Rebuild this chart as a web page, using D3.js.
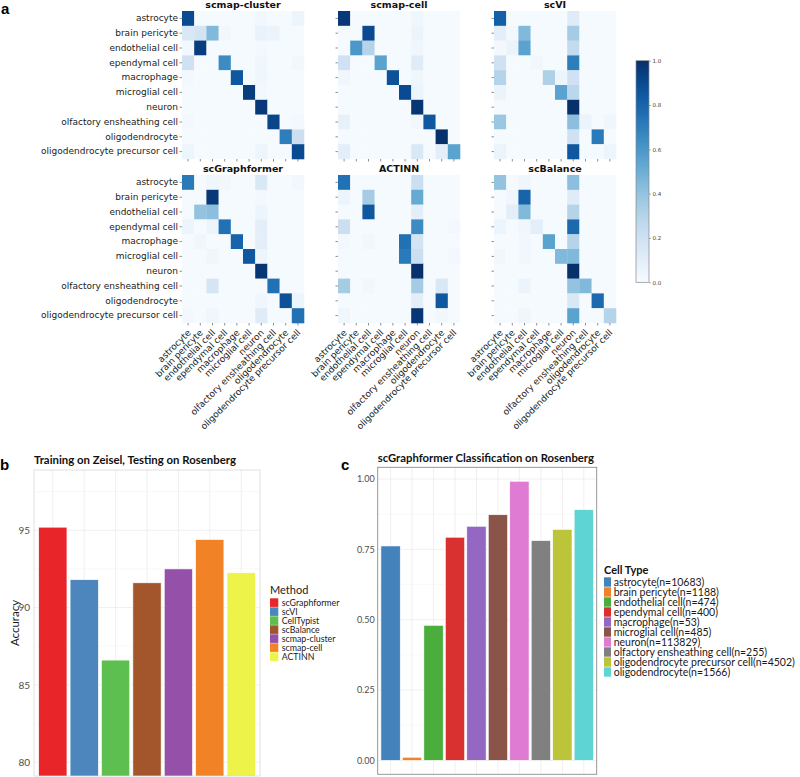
<!DOCTYPE html>
<html>
<head>
<meta charset="utf-8">
<script src="https://cdn.jsdelivr.net/npm/d3@7"></script>
<style>
  body { margin: 0; background: #fff; }
  svg { display: block; }
</style>
</head>
<body>
<script>
// ---- data ----
var cellTypes = ["astrocyte", "brain pericyte", "endothelial cell", "ependymal cell", "macrophage",
  "microglial cell", "neuron", "olfactory ensheathing cell", "oligodendrocyte", "oligodendrocyte precursor cell"];

// confusion matrices (rows = true type, cols = predicted type)
var scmapClusterMatrix = [
  [0.90,0.01,0.01,0.01,0.01,0.01,0.03,0.01,0.01,0.05],
  [0.15,0.18,0.45,0.03,0.01,0.01,0.07,0.06,0.01,0.01],
  [0.02,0.95,0.01,0.01,0.01,0.01,0.02,0.01,0.01,0.01],
  [0.20,0.01,0.01,0.65,0.01,0.01,0.04,0.01,0.01,0.03],
  [0.02,0.01,0.01,0.01,0.85,0.01,0.04,0.01,0.01,0.01],
  [0.01,0.01,0.01,0.01,0.01,0.95,0.02,0.01,0.01,0.01],
  [0.01,0.01,0.01,0.01,0.01,0.01,0.97,0.01,0.01,0.01],
  [0.02,0.01,0.01,0.01,0.01,0.01,0.01,0.92,0.01,0.02],
  [0.01,0.01,0.01,0.01,0.01,0.01,0.01,0.01,0.70,0.22],
  [0.05,0.01,0.01,0.01,0.01,0.01,0.05,0.01,0.01,0.90]
];
var scmapCellMatrix = [
  [0.97,0.01,0.01,0.01,0.01,0.01,0.04,0.01,0.01,0.01],
  [0.01,0.01,0.90,0.01,0.01,0.01,0.06,0.01,0.01,0.01],
  [0.01,0.60,0.30,0.01,0.01,0.01,0.04,0.01,0.01,0.01],
  [0.20,0.01,0.01,0.55,0.01,0.01,0.12,0.01,0.01,0.01],
  [0.04,0.01,0.01,0.01,0.87,0.01,0.04,0.01,0.01,0.01],
  [0.01,0.01,0.01,0.01,0.01,0.90,0.05,0.01,0.01,0.01],
  [0.01,0.01,0.01,0.01,0.01,0.01,0.98,0.01,0.01,0.01],
  [0.08,0.01,0.01,0.01,0.01,0.01,0.03,0.85,0.01,0.01],
  [0.01,0.01,0.01,0.01,0.01,0.01,0.01,0.01,1.00,0.01],
  [0.10,0.01,0.01,0.01,0.01,0.01,0.15,0.01,0.10,0.55]
];
var scviMatrix = [
  [0.82,0.01,0.01,0.01,0.01,0.01,0.12,0.01,0.01,0.01],
  [0.10,0.02,0.45,0.01,0.01,0.01,0.35,0.01,0.01,0.01],
  [0.02,0.06,0.55,0.01,0.01,0.01,0.25,0.01,0.01,0.01],
  [0.20,0.01,0.01,0.03,0.01,0.01,0.70,0.01,0.01,0.01],
  [0.30,0.01,0.01,0.01,0.32,0.05,0.20,0.01,0.01,0.01],
  [0.06,0.01,0.01,0.01,0.01,0.55,0.28,0.01,0.01,0.01],
  [0.01,0.01,0.01,0.01,0.01,0.01,1.00,0.01,0.01,0.01],
  [0.38,0.01,0.01,0.01,0.01,0.01,0.42,0.06,0.01,0.04],
  [0.01,0.01,0.01,0.01,0.01,0.01,0.20,0.01,0.72,0.01],
  [0.06,0.01,0.01,0.01,0.01,0.01,0.85,0.01,0.01,0.05]
];
var scGraphformerMatrix = [
  [0.72,0.01,0.04,0.03,0.01,0.01,0.15,0.01,0.01,0.03],
  [0.01,0.01,0.97,0.01,0.01,0.01,0.02,0.01,0.01,0.01],
  [0.01,0.40,0.42,0.01,0.01,0.01,0.05,0.01,0.01,0.01],
  [0.05,0.01,0.05,0.75,0.01,0.01,0.10,0.01,0.01,0.01],
  [0.01,0.04,0.01,0.01,0.80,0.01,0.10,0.01,0.01,0.01],
  [0.01,0.01,0.04,0.01,0.01,0.85,0.05,0.01,0.01,0.01],
  [0.01,0.01,0.01,0.01,0.01,0.01,0.98,0.01,0.01,0.01],
  [0.01,0.01,0.17,0.01,0.01,0.01,0.01,0.75,0.01,0.01],
  [0.01,0.01,0.01,0.01,0.01,0.01,0.04,0.01,0.87,0.05],
  [0.02,0.01,0.04,0.01,0.01,0.01,0.12,0.01,0.01,0.75]
];
var actinnMatrix = [
  [0.75,0.01,0.01,0.01,0.01,0.01,0.22,0.01,0.01,0.01],
  [0.05,0.01,0.35,0.01,0.01,0.01,0.52,0.01,0.01,0.01],
  [0.01,0.01,0.85,0.01,0.01,0.01,0.10,0.01,0.01,0.01],
  [0.22,0.01,0.01,0.01,0.01,0.01,0.65,0.01,0.01,0.02],
  [0.02,0.01,0.03,0.01,0.01,0.75,0.18,0.01,0.01,0.01],
  [0.01,0.01,0.01,0.01,0.01,0.72,0.22,0.01,0.01,0.02],
  [0.01,0.01,0.01,0.01,0.01,0.01,1.00,0.01,0.01,0.01],
  [0.35,0.01,0.03,0.01,0.01,0.01,0.35,0.01,0.15,0.01],
  [0.01,0.01,0.01,0.01,0.01,0.01,0.10,0.01,0.85,0.01],
  [0.04,0.01,0.01,0.01,0.01,0.01,0.98,0.01,0.03,0.01]
];
var scBalanceMatrix = [
  [0.40,0.01,0.04,0.01,0.01,0.01,0.42,0.01,0.01,0.01],
  [0.01,0.04,0.80,0.01,0.01,0.01,0.12,0.01,0.01,0.01],
  [0.01,0.10,0.45,0.01,0.01,0.01,0.30,0.01,0.01,0.01],
  [0.05,0.01,0.04,0.10,0.01,0.01,0.78,0.01,0.01,0.01],
  [0.01,0.01,0.03,0.01,0.55,0.01,0.30,0.01,0.01,0.01],
  [0.03,0.01,0.03,0.01,0.01,0.45,0.45,0.01,0.01,0.01],
  [0.01,0.01,0.01,0.01,0.01,0.01,1.00,0.01,0.01,0.01],
  [0.01,0.01,0.06,0.01,0.01,0.01,0.40,0.45,0.01,0.01],
  [0.01,0.01,0.01,0.01,0.01,0.01,0.15,0.01,0.78,0.01],
  [0.01,0.01,0.04,0.01,0.01,0.01,0.55,0.01,0.01,0.30]
];
var colorbarTicks = [0, 0.2, 0.4, 0.6, 0.8, 1.0];

// panel b
var methodNames = ["scGraphformer", "scVI", "CellTypist", "scBalance", "scmap-cluster", "scmap-cell", "ACTINN"];
var methodAccuracy = [95.2, 91.8, 86.6, 91.6, 92.5, 94.4, 92.25];
var accuracyTicks = [80, 85, 90, 95];
var accuracyMinor = [82.5, 87.5, 92.5, 97.5];

// panel c
var rosenbergTypes = ["astrocyte", "brain pericyte", "endothelial cell", "ependymal cell", "macrophage",
  "microglial cell", "neuron", "olfactory ensheathing cell", "oligodendrocyte precursor cell", "oligodendrocyte"];
var rosenbergCounts = [10683, 1188, 474, 400, 53, 485, 113829, 255, 4502, 1566];
var rosenbergAccuracy = [0.762, 0.011, 0.48, 0.793, 0.832, 0.873, 0.992, 0.781, 0.821, 0.891];
var fractionTicks = [0, 0.25, 0.5, 0.75, 1];
var fractionMinor = [0.125, 0.375, 0.625, 0.875];

// ---- palettes ----
var methodColors = ["#e8262a", "#4c86bd", "#5dbf4f", "#a3562b", "#9550a9", "#f28226", "#eef34a"];
var typeColors = ["#4382bb", "#f0822a", "#4aad3c", "#d93030", "#9467c2", "#8b5449", "#e07bd3", "#808080", "#bcc43a", "#5fd4d4"];

var svg = d3.select("body")
  .append("svg")
  .attr("width", 800)
  .attr("height", 777);

var mplFont = "DejaVu Sans, sans-serif";
var ggFont = "Lato, 'Open Sans', sans-serif";

// panel letters
var letter = function (txt, x, y) {
  svg.append("text")
    .attr("x", x).attr("y", y)
    .attr("font-family", "Liberation Sans, Arial, sans-serif")
    .attr("font-weight", "bold")
    .attr("font-size", 15)
    .text(txt);
};
letter("a", 1, 14);
letter("b", 0, 470);
letter("c", 341, 470);

// ---- panel a: heatmaps ----
var heat = d3.scaleSequential(d3.interpolateBlues).domain([0, 1]);

var panels = [
  { title: "scmap-cluster", matrix: scmapClusterMatrix, x: 182, y: 11, showY: true, showX: false },
  { title: "scmap-cell", matrix: scmapCellMatrix, x: 338, y: 11, showY: false, showX: false },
  { title: "scVI", matrix: scviMatrix, x: 494, y: 11, showY: false, showX: false },
  { title: "scGraphformer", matrix: scGraphformerMatrix, x: 182, y: 175, showY: true, showX: true },
  { title: "ACTINN", matrix: actinnMatrix, x: 338, y: 175, showY: false, showX: true },
  { title: "scBalance", matrix: scBalanceMatrix, x: 494, y: 175, showY: false, showX: true }
];

var drawHeatmap = function (p) {
  var x = d3.scaleBand().domain(d3.range(cellTypes.length)).range([p.x, p.x + 122]);
  var y = d3.scaleBand().domain(d3.range(cellTypes.length)).range([p.y, p.y + 148]);
  var g = svg.append("g");

  var cells = [];
  p.matrix.forEach(function (row, r) {
    row.forEach(function (v, c) { cells.push({ r: r, c: c, v: v }); });
  });

  g.selectAll(".cell")
    .data(cells)
    .enter()
    .append("rect")
    .attr("class", "cell")
    .attr("x", function (d) { return x(d.c); })
    .attr("y", function (d) { return y(d.r); })
    .attr("width", x.bandwidth() + 0.3)
    .attr("height", y.bandwidth() + 0.3)
    .attr("fill", function (d) { return heat(d.v); });

  g.append("text")
    .attr("x", p.x + 61).attr("y", p.y - 3)
    .attr("text-anchor", "middle")
    .attr("font-family", mplFont)
    .attr("font-weight", "bold")
    .attr("font-size", 9.5)
    .attr("fill", "#111")
    .text(p.title);

  var yAxis = g.append("g")
    .attr("transform", "translate(" + p.x + ",0)")
    .call(d3.axisLeft(y).tickSize(2.5).tickPadding(1.5)
      .tickFormat(function (i) { return p.showY ? cellTypes[i] : ""; }));
  var xAxis = g.append("g")
    .attr("transform", "translate(0," + (p.y + 148) + ")")
    .call(d3.axisBottom(x).tickSize(2.5)
      .tickFormat(function (i) { return p.showX ? cellTypes[i] : ""; }));

  [yAxis, xAxis].forEach(function (ax) {
    ax.select(".domain").remove();
    ax.selectAll("line").attr("stroke", "#444").attr("stroke-width", 0.6);
    ax.selectAll("text")
      .attr("font-family", mplFont)
      .attr("font-size", 9)
      .attr("fill", "#222");
  });

  xAxis.selectAll("text")
    .attr("x", 0).attr("y", 0).attr("dy", "0.35em")
    .attr("transform", "translate(1,8) rotate(-45)")
    .style("text-anchor", "end");
};

panels.forEach(drawHeatmap);

// colorbar
var cbY = d3.scaleLinear().domain([0, 1]).range([282.3, 60.7]);
var grad = svg.append("defs").append("linearGradient")
  .attr("id", "cbgrad")
  .attr("x1", 0).attr("y1", 1).attr("x2", 0).attr("y2", 0);
grad.selectAll("stop")
  .data(d3.range(0, 1.0001, 0.05))
  .enter()
  .append("stop")
  .attr("offset", function (d) { return d; })
  .attr("stop-color", function (d) { return heat(d); });

svg.append("rect")
  .attr("x", 636).attr("y", cbY(1))
  .attr("width", 13).attr("height", cbY(0) - cbY(1))
  .attr("fill", "url(#cbgrad)")
  .attr("stroke", "#888")
  .attr("stroke-width", 0.7);

var cbAxis = svg.append("g")
  .attr("transform", "translate(649,0)")
  .call(d3.axisRight(cbY).tickValues(colorbarTicks).tickSize(2).tickPadding(1.5).tickFormat(d3.format(".1f")));
cbAxis.select(".domain").remove();
cbAxis.selectAll("line").attr("stroke", "#666").attr("stroke-width", 0.5);
cbAxis.selectAll("text").attr("font-family", mplFont).attr("font-size", 5.5).attr("fill", "#444");

// ---- panel b: method accuracy ----
var bLeft = 34, bRight = 260, bTop = 470, bBottom = 776;
var bX = d3.scaleBand().domain(methodNames).range([bLeft, bRight]).paddingInner(0.1).paddingOuter(0.15);
var bY = d3.scaleLinear().domain([79.1, 98.9]).range([bBottom, bTop]);

svg.append("text")
  .attr("x", 34).attr("y", 464)
  .attr("font-family", ggFont).attr("font-weight", "bold").attr("font-size", 11.4)
  .attr("fill", "#111")
  .text("Training on Zeisel, Testing on Rosenberg");

svg.append("clipPath").attr("id", "clipB")
  .append("rect").attr("x", bLeft).attr("y", bTop).attr("width", bRight - bLeft).attr("height", bBottom - bTop);

var gb = svg.append("g").attr("clip-path", "url(#clipB)");
gb.selectAll(".minor").data(accuracyMinor).enter().append("line")
  .attr("x1", bLeft).attr("x2", bRight)
  .attr("y1", function (d) { return bY(d); }).attr("y2", function (d) { return bY(d); })
  .attr("stroke", "#f2f2f2").attr("stroke-width", 0.5);
gb.selectAll(".major").data(accuracyTicks).enter().append("line")
  .attr("x1", bLeft).attr("x2", bRight)
  .attr("y1", function (d) { return bY(d); }).attr("y2", function (d) { return bY(d); })
  .attr("stroke", "#ebebeb").attr("stroke-width", 0.8);
gb.selectAll(".vgrid").data(methodNames).enter().append("line")
  .attr("x1", function (d) { return bX(d) + bX.bandwidth() / 2; })
  .attr("x2", function (d) { return bX(d) + bX.bandwidth() / 2; })
  .attr("y1", bTop).attr("y2", bBottom)
  .attr("stroke", "#ebebeb").attr("stroke-width", 0.8);

gb.selectAll(".bar")
  .data(methodNames)
  .enter()
  .append("rect")
  .attr("class", "bar")
  .attr("x", function (d) { return bX(d); })
  .attr("y", function (d, i) { return bY(methodAccuracy[i]); })
  .attr("width", bX.bandwidth())
  .attr("height", function (d, i) { return bBottom + 5 - bY(methodAccuracy[i]); })
  .attr("fill", function (d, i) { return methodColors[i]; })
  .attr("stroke", "#ffffff")
  .attr("stroke-width", 0.6);

svg.append("rect")
  .attr("x", bLeft).attr("y", bTop).attr("width", bRight - bLeft).attr("height", bBottom - bTop)
  .attr("fill", "none").attr("stroke", "#d9d9d9").attr("stroke-width", 0.8);

var bAxis = svg.append("g")
  .attr("transform", "translate(" + bLeft + ",0)")
  .call(d3.axisLeft(bY).tickValues(accuracyTicks).tickSize(0).tickPadding(4));
bAxis.select(".domain").remove();
bAxis.selectAll("text").attr("font-family", ggFont).attr("font-size", 10).attr("fill", "#4d4d4d");

svg.append("text")
  .attr("transform", "translate(18.5,623) rotate(-90)")
  .attr("text-anchor", "middle")
  .attr("font-family", ggFont).attr("font-size", 11.5).attr("fill", "#1a1a1a")
  .text("Accuracy");

// legend b
svg.append("text")
  .attr("x", 270).attr("y", 594)
  .attr("font-family", ggFont).attr("font-size", 11).attr("fill", "#1a1a1a")
  .text("Method");
var legB = svg.selectAll(".legb").data(methodNames).enter().append("g")
  .attr("transform", function (d, i) { return "translate(270," + (598.3 + i * 9) + ")"; });
legB.append("rect").attr("width", 8.3).attr("height", 8.6)
  .attr("fill", function (d, i) { return methodColors[i]; });
legB.append("text").attr("x", 11.7).attr("y", 4.4).attr("dy", "0.35em")
  .attr("font-family", ggFont).attr("font-size", 8.8).attr("fill", "#1a1a1a")
  .text(function (d) { return d; });

// ---- panel c: per-type accuracy ----
var cLeft = 377.7, cRight = 596.7, cTop = 467.3, cBottom = 774.3;
var cX = d3.scaleBand().domain(rosenbergTypes).range([cLeft, cRight]).paddingInner(0.1).paddingOuter(0.15);
var cY = d3.scaleLinear().domain([-0.0496, 1.0416]).range([cBottom, cTop]);

svg.append("text")
  .attr("x", 377.7).attr("y", 462)
  .attr("font-family", ggFont).attr("font-weight", "bold").attr("font-size", 11.3)
  .attr("fill", "#111")
  .text("scGraphformer Classification on Rosenberg");

var gc = svg.append("g");
gc.selectAll(".minor").data(fractionMinor).enter().append("line")
  .attr("x1", cLeft).attr("x2", cRight)
  .attr("y1", function (d) { return cY(d); }).attr("y2", function (d) { return cY(d); })
  .attr("stroke", "#f2f2f2").attr("stroke-width", 0.5);
gc.selectAll(".major").data(fractionTicks).enter().append("line")
  .attr("x1", cLeft).attr("x2", cRight)
  .attr("y1", function (d) { return cY(d); }).attr("y2", function (d) { return cY(d); })
  .attr("stroke", "#ebebeb").attr("stroke-width", 0.8);
gc.selectAll(".vgrid").data(rosenbergTypes).enter().append("line")
  .attr("x1", function (d) { return cX(d) + cX.bandwidth() / 2; })
  .attr("x2", function (d) { return cX(d) + cX.bandwidth() / 2; })
  .attr("y1", cTop).attr("y2", cBottom)
  .attr("stroke", "#ebebeb").attr("stroke-width", 0.8);

gc.selectAll(".bar")
  .data(rosenbergTypes)
  .enter()
  .append("rect")
  .attr("class", "bar")
  .attr("x", function (d) { return cX(d); })
  .attr("y", function (d, i) { return cY(rosenbergAccuracy[i]); })
  .attr("width", cX.bandwidth())
  .attr("height", function (d, i) { return cY(0) - cY(rosenbergAccuracy[i]); })
  .attr("fill", function (d, i) { return typeColors[i]; })
  .attr("stroke", "#ffffff")
  .attr("stroke-width", 0.6);

svg.append("rect")
  .attr("x", cLeft).attr("y", cTop).attr("width", cRight - cLeft).attr("height", cBottom - cTop)
  .attr("fill", "none").attr("stroke", "#8c8c8c").attr("stroke-width", 0.9);

var cAxis = svg.append("g")
  .attr("transform", "translate(" + cLeft + ",0)")
  .call(d3.axisLeft(cY).tickValues(fractionTicks).tickSize(0).tickPadding(3).tickFormat(d3.format(".2f")));
cAxis.select(".domain").remove();
cAxis.selectAll("text").attr("font-family", ggFont).attr("font-size", 9).attr("fill", "#4d4d4d");

// legend c
svg.append("text")
  .attr("x", 604).attr("y", 573.5)
  .attr("font-family", ggFont).attr("font-weight", "bold").attr("font-size", 11).attr("fill", "#111")
  .text("Cell Type");
var legC = svg.selectAll(".legc").data(rosenbergTypes).enter().append("g")
  .attr("transform", function (d, i) { return "translate(604," + (577.3 + i * 10) + ")"; });
legC.append("rect").attr("width", 7).attr("height", 9.4)
  .attr("fill", function (d, i) { return typeColors[i]; });
legC.append("text").attr("x", 9.7).attr("y", 4.7).attr("dy", "0.35em")
  .attr("font-family", ggFont).attr("font-size", 10.5).attr("fill", "#1a1a1a")
  .text(function (d, i) { return d + "(n=" + rosenbergCounts[i] + ")"; });
</script>
</body>
</html>
